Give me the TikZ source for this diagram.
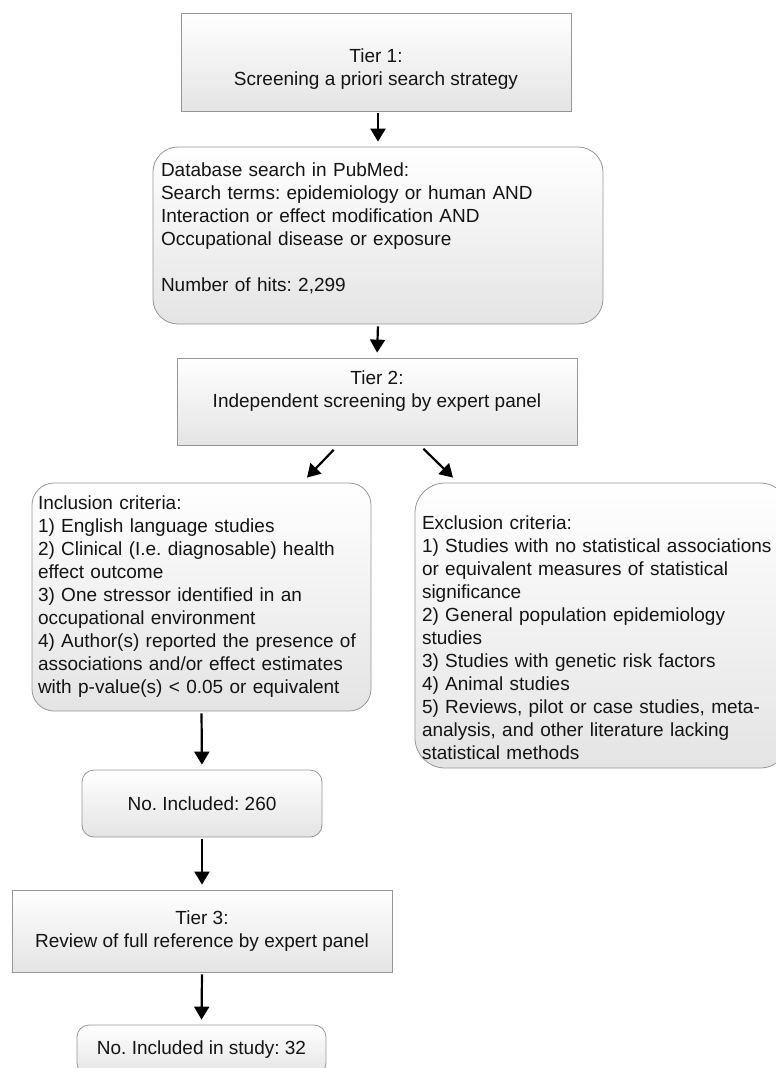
\documentclass[tikz,border=0pt]{standalone}
\usepackage{fontspec}
\setmainfont{Liberation Sans}
\usepackage{xcolor}
\usetikzlibrary{arrows.meta, positioning}
\frenchspacing

\definecolor{boxline}{HTML}{969696}
\definecolor{boxfill}{HTML}{E4E4E4}
\definecolor{boxtext}{HTML}{141414}

\begin{document}
\begin{tikzpicture}[x=1pt, y=-1pt,
  every node/.style={font=\fontsize{19}{23}\selectfont, text=boxtext},
  tierbox/.style={draw=boxline, line width=0.8pt, top color=white, bottom color=boxfill, align=center, inner sep=0pt},
  listbox/.style={tierbox, rounded corners=25pt, align=left},
  smallbox/.style={tierbox, rounded corners=12pt},
  arr/.style={-{Triangle[length=13pt,width=15pt]}, line width=2.2pt, black, shorten >=5pt, shorten <=2pt}]
\useasboundingbox (0,0) rectangle (776,1068);
\clip (0,0) rectangle (776,1068);

% Tier 1
\node[tierbox, minimum width=390pt, minimum height=98pt, text height=50pt] (tierone) at (376,62) {Tier 1:\\Screening a priori search strategy};

% PubMed search
\node[listbox, inner xsep=8pt, text width=434pt, text depth=131pt, minimum height=177pt] (search) at (378,235.5)
  {Database search in PubMed:\\Search terms: epidemiology or human AND\\Interaction or effect modification AND\\Occupational disease or exposure\\[23pt]Number of hits: 2,299};

% Tier 2
\node[tierbox, minimum width=400pt, minimum height=87pt, text depth=25pt] (tiertwo) at (377,401.5) {Tier 2:\\Independent screening by expert panel};

% Inclusion / exclusion
\node[listbox, rounded corners=22pt, inner xsep=6pt, text width=327pt, minimum height=228pt] (incl) at (201.5,597)
  {Inclusion criteria:\\1) English language studies\\2) Clinical (I.e. diagnosable) health\\effect outcome\\3) One stressor identified in an\\occupational environment\\4) Author(s) reported the presence of\\associations and/or effect estimates\\with p-value(s) < 0.05 or equivalent};
\node[listbox, rounded corners=30pt, inner xsep=7pt, text width=361pt, text height=38pt, minimum height=285pt] (excl) at (602.5,625.5)
  {Exclusion criteria:\\1) Studies with no statistical associations\\or equivalent measures of statistical\\significance\\2) General population epidemiology\\studies\\3) Studies with genetic risk factors\\4) Animal studies\\5) Reviews, pilot or case studies, meta-\\analysis, and other literature lacking\\statistical methods};

% Counts and tier 3
\node[smallbox, minimum width=240pt, minimum height=67pt] (inc260) at (202,803.5) {No. Included: 260};
\node[tierbox, minimum width=380pt, minimum height=82pt] (tierthree) at (202,931) {Tier 3:\\Review of full reference by expert panel};
\node[smallbox, minimum width=249pt, minimum height=50pt] (inc32) at (201.5,1050) {No. Included in study: 32};

% Arrows
\draw[arr] (search.north |- tierone.south) -- (search.north);
\draw[arr] (search.south) -- (tiertwo.north);
\draw[arr, shorten >=0pt] ([xshift=-42pt,yshift=-3pt]tiertwo.south) -- ([xshift=105.5pt,yshift=5pt]incl.north);
\draw[arr, shorten >=0pt] ([xshift=45pt,yshift=-2pt]tiertwo.south) -- ([xshift=-149.5pt,yshift=5pt]excl.north);
\draw[arr] (incl.south) -- (inc260.north);
\draw[arr] (inc260.south) -- (tierthree.north);
\draw[arr] (tierthree.south) -- (inc32.north);
\end{tikzpicture}
\end{document}
